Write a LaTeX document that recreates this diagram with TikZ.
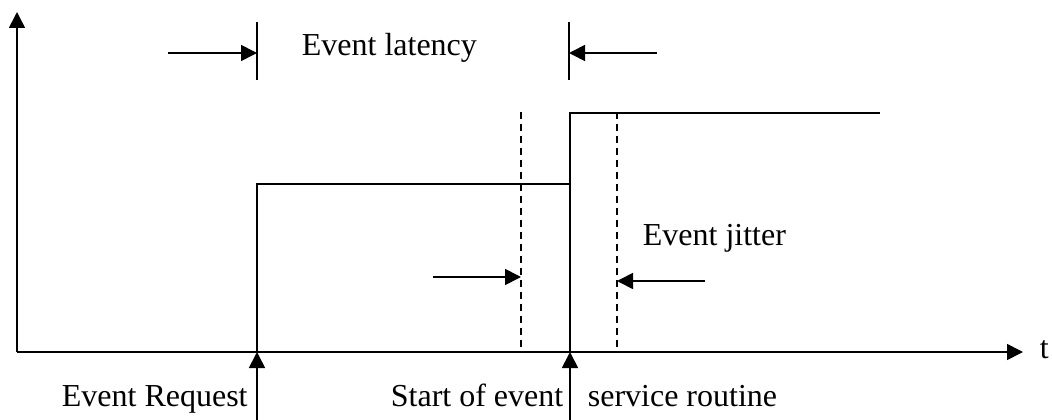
\documentclass[tikz,border=0pt]{standalone}
\usepackage{fontspec}
\setmainfont{Liberation Serif}
\usetikzlibrary{arrows.meta}
\begin{document}
\begin{tikzpicture}[x=1pt,y=-1pt,
  line width=1.7pt,
  tip/.style={-{Triangle[length=16pt,width=16pt]}},
  guide/.style={line width=1.4pt,dash pattern=on 7pt off 5pt},
  lbl/.style={anchor=base west,inner sep=0pt,font=\fontsize{32}{38}\selectfont}]
\useasboundingbox (0,0) rectangle (1052,420);
% axes
\coordinate (O) at (17,352);
\coordinate (ytop) at (17,12);
\coordinate (xend) at (1023,352);
\draw[tip] (O) -- (ytop);
\draw[tip] (O) -- (xend);
\node[lbl] (t) at (1039,358) {t};
% signal
\coordinate (r1) at (257,352);
\coordinate (r1t) at (257,184);
\coordinate (r2b) at (570,352);
\coordinate (r2) at (570,184);
\coordinate (r2t) at (570,113);
\coordinate (sigend) at (880,113);
\draw (r1) -- (r1t) -- (r2);
\draw (r2b) -- (r2t) -- (sigend);
% jitter bounds
\coordinate (j1t) at (521,112);
\coordinate (j1b) at (521,352);
\coordinate (j2t) at (617,112);
\coordinate (j2b) at (617,352);
\draw[guide] (j1t) -- (j1b);
\draw[guide] (j2t) -- (j2b);
% event markers
\coordinate (reqb) at (257,420);
\coordinate (srvb) at (570,420);
\draw[tip] (reqb) -- (r1);
\draw[tip] (srvb) -- (r2b);
% latency marks
\coordinate (l1t) at (257,22);
\coordinate (l1b) at (257,80);
\coordinate (l2t) at (569,22);
\coordinate (l2b) at (569,80);
\draw (l1t) -- (l1b);
\draw (l2t) -- (l2b);
\coordinate (la) at (168,53);
\coordinate (lb) at (657,53);
\draw[tip] (la) -- (257,53);
\draw[tip] (lb) -- (569,53);
\node[lbl] (lat) at (301,56) {Event latency};
% jitter arrows
\coordinate (ja) at (433,277);
\coordinate (jb) at (705,281);
\draw[tip] (ja) -- (521,277);
\draw[tip] (jb) -- (617,281);
\node[lbl] (jit) at (642,245) {Event jitter};
% bottom labels
\node[lbl] (req) at (61,406) {Event Request};
\node[lbl] (start) at (390,406) {Start of event};
\node[lbl] (srv) at (587,406) {service routine};
\end{tikzpicture}
\end{document}
